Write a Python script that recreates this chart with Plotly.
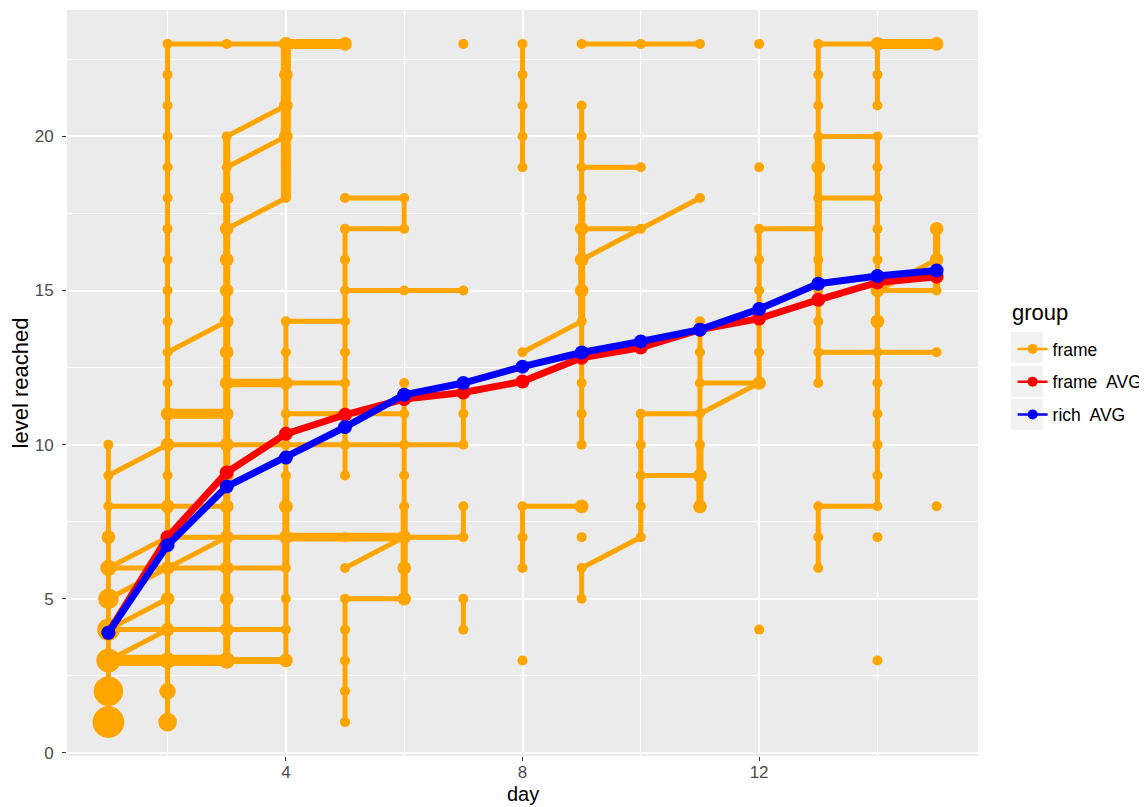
import plotly.graph_objects as go

# ---------------- data ----------------
days_axis = list(range(1, 16))
frame_avg = [3.9, 7.0, 9.1, 10.35, 10.97, 11.48, 11.69, 12.05, 12.82, 13.15, 13.73, 14.09, 14.7, 15.26, 15.45]
rich_avg = [3.9, 6.74, 8.64, 9.58, 10.57, 11.62, 12.0, 12.53, 12.99, 13.35, 13.73, 14.4, 15.22, 15.47, 15.65]

x_ticks = [4, 8, 12]
y_ticks = [0, 5, 10, 15, 20]

# individual "frame" trajectories: (days, levels, weight = players sharing the path)
def col(d, lo, hi):
    return [d] * (hi - lo + 1), list(range(lo, hi + 1))

trajectories = []
def add(days, levels, w=1):
    trajectories.append((list(days), list(levels), w))

d, l = col(2, 1, 23); add(d + [3, 4, 5], l + [23, 23, 23], 1)
d, l = col(4, 18, 23); add(d + [5], l + [23], 4)
d, l = col(1, 1, 10); add(d, l, 1)
add([1, 2, 3, 4, 5, 6, 7, 7, 7], [9, 10, 10, 10, 10, 10, 10, 11, 12])
add([1, 2, 3], [8, 8, 8])
add([1, 2, 3, 4, 5, 6, 7, 7], [6, 7, 7, 7, 7, 7, 7, 8])
add([4, 5, 6], [7, 7, 7], 3)
add([1, 2, 3, 4], [6, 6, 6, 6])
add([1, 2, 3], [5, 6, 7])
add([1, 2], [4, 5])
add([1, 2], [3, 4])
add([1, 2, 3, 4], [4, 4, 4, 4])
add([1, 2, 3], [3, 3, 3], 5)
add([3, 4], [3, 3], 2)
add([2, 3], [13, 14])
add([2, 3], [11, 11], 4)
add([3, 4], [12, 12], 3)
add([4, 5], [12, 12])
add([3, 4], [17, 18])
add([3, 4], [19, 20])
add([3, 4], [20, 21])
d, l = col(3, 3, 20); add(d, l, 2)
d, l = col(4, 3, 14); add(d + [5], l + [14], 1)
d, l = col(4, 6, 9); add(d, l, 2)
add([4, 5, 6], [11, 11, 11])
d, l = col(5, 9, 17); add(d + [6], l + [17], 1)
add([5, 6, 6], [18, 18, 17])
add([5, 6, 7], [15, 15, 15])
d, l = col(5, 1, 5); add(d + [6], l + [5], 1)
d, l = col(6, 5, 12); add(d, l, 1)
d, l = col(6, 5, 8); add(d, l, 2)
add([5, 6], [6, 7])
add([7, 7], [4, 5])
d, l = col(8, 19, 23); add(d, l, 1)
add([8, 9], [13, 14])
add([8, 8, 8, 9], [6, 7, 8, 8])
d, l = col(9, 10, 21); add(d, l, 1)
d, l = col(9, 14, 18); add(d, l, 2)
add([9, 10, 11], [23, 23, 23])
add([9, 10], [19, 19])
add([9, 10], [17, 17])
add([9, 10, 11], [16, 17, 18])
add([9, 9, 10, 10, 10, 10, 10, 11], [5, 6, 7, 8, 9, 10, 11, 11])
add([10, 11], [9, 9])
d, l = col(11, 8, 14); add(d, l, 1)
d, l = col(11, 8, 10); add(d, l, 2)
add([11, 12], [12, 12])
add([11, 12], [11, 12])
d, l = col(12, 12, 17); add(d + [13], l + [17], 1)
d, l = col(13, 12, 23); add(d + [14], l + [23], 1)
d, l = col(13, 15, 20); add(d, l, 2)
add([14, 15], [23, 23], 4)
add([13, 14], [20, 20])
add([13, 14], [18, 18])
add([13, 14, 15], [13, 13, 13])
add([13, 13, 13, 14], [6, 7, 8, 8])
d, l = col(14, 21, 23); add(d, l, 1)
d, l = col(14, 8, 20); add(d, l, 1)
add([14, 15], [15, 15])
add([14, 15, 15], [15, 16, 17])
d, l = col(15, 15, 17); add(d, l, 2)

# standalone observations
single_days = [7, 12, 12, 12, 8, 9, 14, 14, 15]
single_levels = [23, 23, 19, 4, 3, 7, 7, 3, 8]

# extra repeated observations at a day/level (players sharing the same point)
extra_days = [1, 1, 1, 1, 1, 1, 1,
              2, 2, 2, 2, 2, 2, 2, 2, 2, 2,
              3, 3, 3, 3, 3, 3, 3, 3, 3, 3, 3, 3, 3, 3, 3, 3,
              4, 4, 4, 4, 4, 4, 4, 4,
              5, 15, 14, 9, 11, 11, 9, 9, 9, 13, 14, 14, 6, 6, 6, 12, 15, 15]
extra_levels = [1, 2, 3, 4, 5, 6, 7,
                1, 2, 3, 4, 5, 6, 7, 8, 10, 11,
                3, 4, 5, 6, 7, 8, 9, 10, 11, 12, 13, 14, 15, 16, 17, 18,
                23, 22, 21, 20, 3, 7, 8, 12,
                23, 23, 23, 8, 8, 9, 15, 16, 17, 19, 14, 15, 7, 5, 6, 12, 16, 17]
extra_counts = [12, 10, 6, 5, 4, 2, 1,
                3, 2, 2, 1, 1, 1, 1, 1, 1, 1,
                2, 1, 1, 1, 1, 1, 1, 1, 1, 1, 1, 1, 1, 1, 1, 1,
                1, 1, 1, 1, 1, 1, 1, 1,
                1, 1, 1, 1, 1, 1, 1, 1, 1, 1, 1, 1, 1, 1, 1, 1, 1, 1]

legend_title = "group"
legend_names = ["frame", "frame  AVG", "rich  AVG"]
legend_colors = ["#FFA500", "#FF0000", "#0000FF"]

# ---------------- figure ----------------
ORANGE = legend_colors[0]
fig = go.Figure()

for td, tl, w in trajectories:
    fig.add_trace(go.Scatter(x=td, y=tl, mode="lines",
                             line=dict(color=ORANGE, width=5 * w ** 0.5),
                             showlegend=False, hoverinfo="skip"))

counts = {}
for td, tl, w in trajectories:
    for p in zip(td, tl):
        counts[p] = 1
for p in zip(single_days, single_levels):
    counts[p] = 1
for dd, ll, n in zip(extra_days, extra_levels, extra_counts):
    counts[(dd, ll)] = counts.get((dd, ll), 1) + n

pts = sorted(counts.items(), key=lambda kv: kv[1])
fig.add_trace(go.Scatter(x=[p[0][0] for p in pts], y=[p[0][1] for p in pts], mode="markers",
                         marker=dict(color=ORANGE, opacity=1, size=[10 * p[1] ** 0.45 for p in pts],
                                     line=dict(width=0)),
                         showlegend=False, hoverinfo="skip"))

fig.add_trace(go.Scatter(x=days_axis, y=frame_avg, mode="lines+markers",
                         line=dict(color=legend_colors[1], width=7), marker=dict(size=14, color=legend_colors[1]),
                         showlegend=False))
fig.add_trace(go.Scatter(x=days_axis, y=rich_avg, mode="lines+markers",
                         line=dict(color=legend_colors[2], width=7), marker=dict(size=14, color=legend_colors[2]),
                         showlegend=False))

# legend entries
for name, c in zip(legend_names, legend_colors):
    fig.add_trace(go.Scatter(x=[None], y=[None], mode="lines+markers", name=name, legendgroup=name,
                             line=dict(color=c, width=2.5), marker=dict(color=c, size=10)))

# grey legend key backgrounds (ggplot style)
key_tops = [332, 366, 399]
for top in key_tops:
    fig.add_shape(type="rect", xref="paper", yref="paper", layer="below",
                  x0=(1011 - 67) / 911, x1=(1043 - 67) / 911,
                  y0=(756 - (top + 31)) / 746, y1=(756 - top) / 746,
                  line=dict(width=0), fillcolor="#F2F2F2")

FONT = "Liberation Sans, Arial, Helvetica, sans-serif"
fig.add_annotation(text=legend_title, xref="paper", yref="paper", x=(1010 - 67) / 911, y=(756 - 312) / 746,
                   xanchor="left", yanchor="middle", showarrow=False, font=dict(size=22, color="#000000"))
fig.add_annotation(text="day", xref="paper", yref="paper", x=0.5, y=(756 - 794) / 746,
                   xanchor="center", yanchor="middle", showarrow=False, font=dict(size=20, color="#000000"))

fig.update_layout(
    width=1147, height=807,
    margin=dict(l=59, r=177, t=2, b=59),
    plot_bgcolor="#EBEBEB", paper_bgcolor="white",
    font=dict(family=FONT, color="#000000"),
    legend=dict(font=dict(size=17.5),
                x=1.038, xanchor="left", y=(756 - 331) / 746, yanchor="top",
                bgcolor="rgba(0,0,0,0)", tracegroupgap=7, itemwidth=30),
    xaxis=dict(range=[0.3, 15.7], tickvals=x_ticks, ticks="outside", ticklen=4, tickwidth=1.2,
               tickcolor="#333333", tickfont=dict(size=17, color="#4D4D4D"), ticklabelstandoff=-3,
               showgrid=True, gridcolor="white", gridwidth=1.6, zeroline=False, showline=False,
               minor=dict(tickvals=[2, 6, 10, 14], showgrid=True, gridcolor="white", gridwidth=0.8, ticks="")),
    yaxis=dict(range=[-0.1, 24.1], tickvals=y_ticks, ticks="outside", ticklen=4, tickwidth=1.2,
               tickcolor="#333333", tickfont=dict(size=17, color="#4D4D4D"), ticklabelstandoff=5,
               showgrid=True, gridcolor="white", gridwidth=1.6, zeroline=False, showline=False,
               minor=dict(tickvals=[2.5, 7.5, 12.5, 17.5, 22.5], showgrid=True, gridcolor="white",
                          gridwidth=0.8, ticks=""),
               title=dict(text="level reached", font=dict(size=22), standoff=1)),
)

fig.write_html("out.html")
